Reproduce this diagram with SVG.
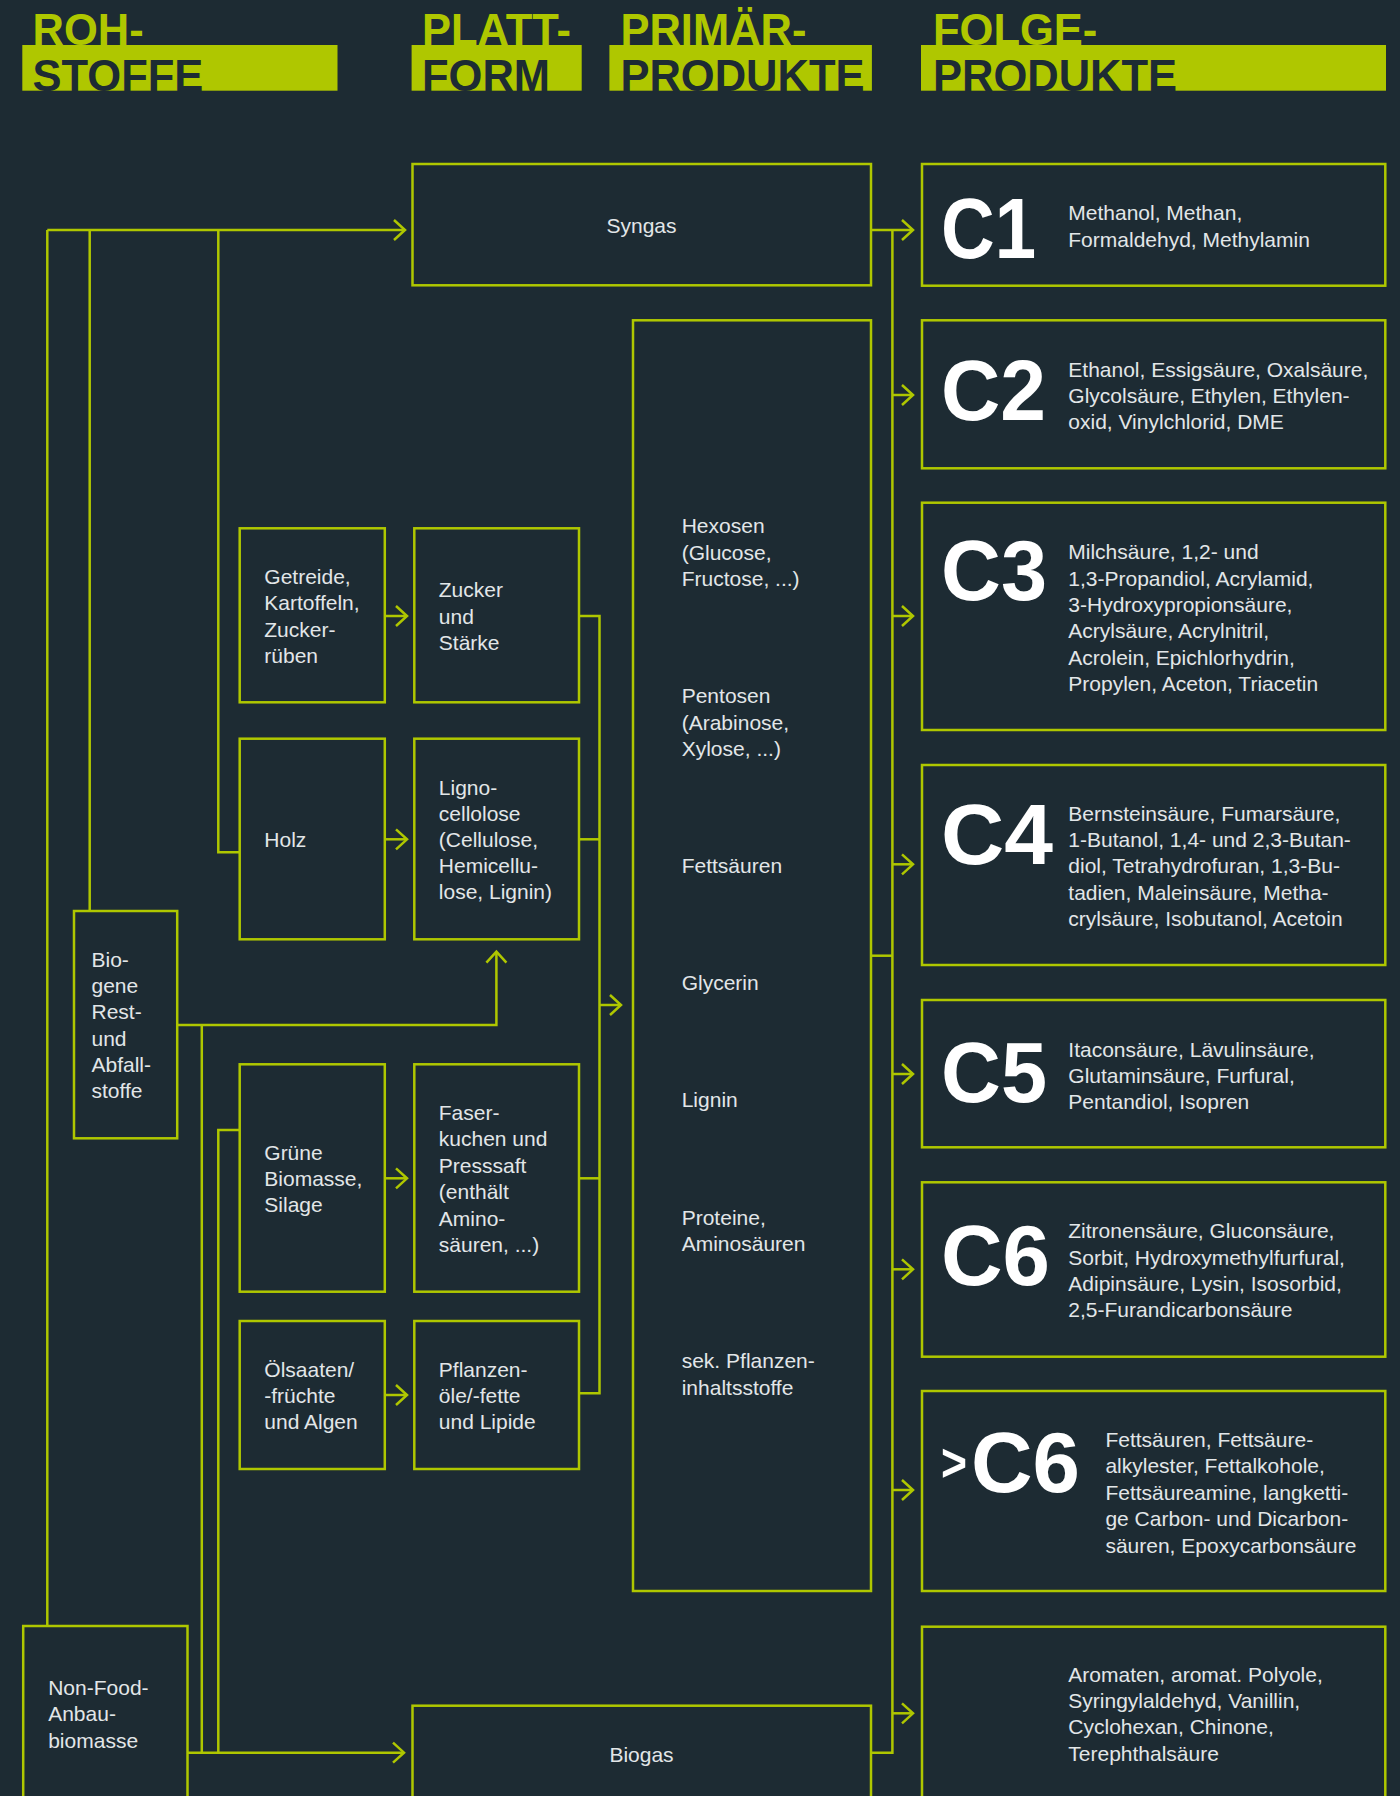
<svg xmlns="http://www.w3.org/2000/svg" width="1400" height="1796" viewBox="0 0 1400 1796">
<defs>
<marker id="arr" viewBox="-13 -12 16 24" markerWidth="16" markerHeight="24" refX="0" refY="0" markerUnits="userSpaceOnUse" orient="auto" overflow="visible">
<path d="M-11,-10 L0,0 L-11,10" fill="none" stroke="#afc700" stroke-width="2.5"/>
</marker>
</defs>
<style>
.bg{fill:#1d2b33}
.box{fill:none;stroke:#afc700;stroke-width:2.5}
.ln{fill:none;stroke:#afc700;stroke-width:2.5}
.t{font-family:"Liberation Sans",Arial,sans-serif;font-size:21px;fill:#e2e6e8}
.big{font-family:"Liberation Sans",Arial,sans-serif;font-weight:bold;font-size:86px;fill:#ffffff}
.h1{font-family:"Liberation Sans",Arial,sans-serif;font-weight:bold;font-size:43.5px;fill:#afc700}
.h2{font-family:"Liberation Sans",Arial,sans-serif;font-weight:bold;font-size:43.5px;fill:#1d2b33}
.bar{fill:#afc700}
</style>
<rect class="bg" x="0" y="0" width="1400" height="1796"/>

<g id="headers">
<rect class="bar" x="22.3" y="45" width="315.2" height="45.7"/>
<rect class="bar" x="411.6" y="45" width="170.1" height="45.7"/>
<rect class="bar" x="609.4" y="45" width="262.5" height="45.7"/>
<rect class="bar" x="921" y="45" width="465" height="45.7"/>
<text class="h1" x="32.5" y="45">ROH-</text>
<text class="h2" x="32.5" y="90.7">STOFFE</text>
<text class="h1" x="422" y="45">PLATT-</text>
<text class="h2" x="422" y="90.7">FORM</text>
<text class="h1" x="620.4" y="45">PRIMÄR-</text>
<text class="h2" x="620.4" y="90.7">PRODUKTE</text>
<text class="h1" x="933" y="45">FOLGE-</text>
<text class="h2" x="933" y="90.7">PRODUKTE</text>
</g>

<g id="connectors">
<path class="ln" d="M47.3,230 H405" marker-end="url(#arr)"/>
<path class="ln" d="M47.3,230 V1626"/>
<path class="ln" d="M89.7,230 V911"/>
<path class="ln" d="M218.3,230 V852.3 H239.7"/>
<path class="ln" d="M385,616 H407" marker-end="url(#arr)"/>
<path class="ln" d="M385,839.3 H407" marker-end="url(#arr)"/>
<path class="ln" d="M385,1178.3 H407" marker-end="url(#arr)"/>
<path class="ln" d="M385,1395 H407" marker-end="url(#arr)"/>
<path class="ln" d="M177.2,1025 H496.4 V951.7" marker-end="url(#arr)"/>
<path class="ln" d="M201.8,1025 V1752.7"/>
<path class="ln" d="M239.7,1130 H218.3 V1752.7"/>
<path class="ln" d="M187.5,1752.7 H404" marker-end="url(#arr)"/>
<path class="ln" d="M579,616 H599.5 V1393.3 H579"/>
<path class="ln" d="M579,839.3 H599.5"/>
<path class="ln" d="M579,1178.3 H599.5"/>
<path class="ln" d="M599.5,1005 H621" marker-end="url(#arr)"/>
<path class="ln" d="M871,230 H913" marker-end="url(#arr)"/>
<path class="ln" d="M892.4,230 V1752.7 H871"/>
<path class="ln" d="M871,955.7 H892.4"/>
<path class="ln" d="M892.4,395 H913" marker-end="url(#arr)"/>
<path class="ln" d="M892.4,616 H913" marker-end="url(#arr)"/>
<path class="ln" d="M892.4,864.3 H913" marker-end="url(#arr)"/>
<path class="ln" d="M892.4,1074 H913" marker-end="url(#arr)"/>
<path class="ln" d="M892.4,1269.3 H913" marker-end="url(#arr)"/>
<path class="ln" d="M892.4,1490 H913" marker-end="url(#arr)"/>
<path class="ln" d="M892.4,1713.3 H913" marker-end="url(#arr)"/>
</g>

<g id="syngas">
<rect class="box" x="412.5" y="164" width="458.5" height="121.3"/>
<text class="t" x="641.5" y="233.3" text-anchor="middle">Syngas</text>
</g>
<g id="biogas">
<rect class="box" x="412.5" y="1705.7" width="458.5" height="140"/>
<text class="t" x="641.5" y="1761.7" text-anchor="middle">Biogas</text>
</g>

<g id="getreide">
<rect class="box" x="239.7" y="528.3" width="145.1" height="174"/>
<text class="t" x="264.3" y="584"><tspan x="264.3">Getreide,</tspan><tspan x="264.3" dy="26.3">Kartoffeln,</tspan><tspan x="264.3" dy="26.3">Zucker-</tspan><tspan x="264.3" dy="26.3">rüben</tspan></text>
</g>
<g id="zucker">
<rect class="box" x="414.3" y="528.3" width="164.7" height="174"/>
<text class="t" x="438.8" y="597.3"><tspan x="438.8">Zucker</tspan><tspan x="438.8" dy="26.3">und</tspan><tspan x="438.8" dy="26.3">Stärke</tspan></text>
</g>
<g id="holz">
<rect class="box" x="239.7" y="738.7" width="145.1" height="200.6"/>
<text class="t" x="264.3" y="846.7">Holz</text>
</g>
<g id="lignocellulose">
<rect class="box" x="414.3" y="738.7" width="164.7" height="200.6"/>
<text class="t" x="438.8" y="795"><tspan x="438.8">Ligno-</tspan><tspan x="438.8" dy="26.1">cellolose</tspan><tspan x="438.8" dy="26.1">(Cellulose,</tspan><tspan x="438.8" dy="26.1">Hemicellu-</tspan><tspan x="438.8" dy="26.1">lose, Lignin)</tspan></text>
</g>
<g id="biogene">
<rect class="box" x="74" y="911" width="103.2" height="227.3"/>
<text class="t" x="91.5" y="966.7"><tspan x="91.5">Bio-</tspan><tspan x="91.5" dy="26.3">gene</tspan><tspan x="91.5" dy="26.3">Rest-</tspan><tspan x="91.5" dy="26.3">und</tspan><tspan x="91.5" dy="26.3">Abfall-</tspan><tspan x="91.5" dy="26.3">stoffe</tspan></text>
</g>
<g id="gruene">
<rect class="box" x="239.7" y="1064.3" width="145.1" height="227.4"/>
<text class="t" x="264.3" y="1160"><tspan x="264.3">Grüne</tspan><tspan x="264.3" dy="26.2">Biomasse,</tspan><tspan x="264.3" dy="26.2">Silage</tspan></text>
</g>
<g id="faser">
<rect class="box" x="414.3" y="1064.3" width="164.7" height="227.4"/>
<text class="t" x="438.8" y="1120"><tspan x="438.8">Faser-</tspan><tspan x="438.8" dy="26.4">kuchen und</tspan><tspan x="438.8" dy="26.4">Presssaft</tspan><tspan x="438.8" dy="26.4">(enthält</tspan><tspan x="438.8" dy="26.4">Amino-</tspan><tspan x="438.8" dy="26.4">säuren, ...)</tspan></text>
</g>
<g id="oelsaaten">
<rect class="box" x="239.7" y="1321" width="145.1" height="148"/>
<text class="t" x="264.3" y="1376.7"><tspan x="264.3">Ölsaaten/</tspan><tspan x="264.3" dy="26.3">-früchte</tspan><tspan x="264.3" dy="26.3">und Algen</tspan></text>
</g>
<g id="pflanzenoele">
<rect class="box" x="414.3" y="1321" width="164.7" height="148"/>
<text class="t" x="438.8" y="1376.7"><tspan x="438.8">Pflanzen-</tspan><tspan x="438.8" dy="26.3">öle/-fette</tspan><tspan x="438.8" dy="26.3">und Lipide</tspan></text>
</g>
<g id="nonfood">
<rect class="box" x="23.2" y="1626" width="164.3" height="220"/>
<text class="t" x="48.2" y="1695"><tspan x="48.2">Non-Food-</tspan><tspan x="48.2" dy="26.3">Anbau-</tspan><tspan x="48.2" dy="26.3">biomasse</tspan></text>
</g>

<g id="primaer">
<rect class="box" x="633" y="320.3" width="238" height="1270.7"/>
<text class="t" x="681.7" y="533.3"><tspan x="681.7">Hexosen</tspan><tspan x="681.7" dy="26.2">(Glucose,</tspan><tspan x="681.7" dy="26.2">Fructose, ...)</tspan></text>
<text class="t" x="681.7" y="703.3"><tspan x="681.7">Pentosen</tspan><tspan x="681.7" dy="26.2">(Arabinose,</tspan><tspan x="681.7" dy="26.2">Xylose, ...)</tspan></text>
<text class="t" x="681.7" y="873.3">Fettsäuren</text>
<text class="t" x="681.7" y="990">Glycerin</text>
<text class="t" x="681.7" y="1107.3">Lignin</text>
<text class="t" x="681.7" y="1225"><tspan x="681.7">Proteine,</tspan><tspan x="681.7" dy="26.2">Aminosäuren</tspan></text>
<text class="t" x="681.7" y="1368.3"><tspan x="681.7">sek. Pflanzen-</tspan><tspan x="681.7" dy="26.2">inhaltsstoffe</tspan></text>
</g>

<g id="c1">
<rect class="box" x="922" y="164" width="463.3" height="121.7"/>
<text class="big" x="941" y="258.3" textLength="95" lengthAdjust="spacingAndGlyphs">C1</text>
<text class="t" x="1068.3" y="220"><tspan x="1068.3">Methanol, Methan,</tspan><tspan x="1068.3" dy="26.6">Formaldehyd, Methylamin</tspan></text>
</g>
<g id="c2">
<rect class="box" x="922" y="320.3" width="463.3" height="148"/>
<text class="big" x="941" y="420" textLength="105" lengthAdjust="spacingAndGlyphs">C2</text>
<text class="t" x="1068.3" y="376.7"><tspan x="1068.3">Ethanol, Essigsäure, Oxalsäure,</tspan><tspan x="1068.3" dy="26.2">Glycolsäure, Ethylen, Ethylen-</tspan><tspan x="1068.3" dy="26.2">oxid, Vinylchlorid, DME</tspan></text>
</g>
<g id="c3">
<rect class="box" x="922" y="502.7" width="463.3" height="227.3"/>
<text class="big" x="941" y="600" textLength="106" lengthAdjust="spacingAndGlyphs">C3</text>
<text class="t" x="1068.3" y="559.3"><tspan x="1068.3">Milchsäure, 1,2- und</tspan><tspan x="1068.3" dy="26.3">1,3-Propandiol, Acrylamid,</tspan><tspan x="1068.3" dy="26.3">3-Hydroxypropionsäure,</tspan><tspan x="1068.3" dy="26.3">Acrylsäure, Acrylnitril,</tspan><tspan x="1068.3" dy="26.3">Acrolein, Epichlorhydrin,</tspan><tspan x="1068.3" dy="26.3">Propylen, Aceton, Triacetin</tspan></text>
</g>
<g id="c4">
<rect class="box" x="922" y="765" width="463.3" height="200"/>
<text class="big" x="941" y="864" textLength="112" lengthAdjust="spacingAndGlyphs">C4</text>
<text class="t" x="1068.3" y="820.7"><tspan x="1068.3">Bernsteinsäure, Fumarsäure,</tspan><tspan x="1068.3" dy="26.3">1-Butanol, 1,4- und 2,3-Butan-</tspan><tspan x="1068.3" dy="26.3">diol, Tetrahydrofuran, 1,3-Bu-</tspan><tspan x="1068.3" dy="26.3">tadien, Maleinsäure, Metha-</tspan><tspan x="1068.3" dy="26.3">crylsäure, Isobutanol, Acetoin</tspan></text>
</g>
<g id="c5">
<rect class="box" x="922" y="1000" width="463.3" height="147.3"/>
<text class="big" x="941" y="1101.7" textLength="106" lengthAdjust="spacingAndGlyphs">C5</text>
<text class="t" x="1068.3" y="1056.7"><tspan x="1068.3">Itaconsäure, Lävulinsäure,</tspan><tspan x="1068.3" dy="26">Glutaminsäure, Furfural,</tspan><tspan x="1068.3" dy="26">Pentandiol, Isopren</tspan></text>
</g>
<g id="c6">
<rect class="box" x="922" y="1182.3" width="463.3" height="174.4"/>
<text class="big" x="941" y="1285" textLength="109" lengthAdjust="spacingAndGlyphs">C6</text>
<text class="t" x="1068.3" y="1238.3"><tspan x="1068.3">Zitronensäure, Gluconsäure,</tspan><tspan x="1068.3" dy="26.2">Sorbit, Hydroxymethylfurfural,</tspan><tspan x="1068.3" dy="26.2">Adipinsäure, Lysin, Isosorbid,</tspan><tspan x="1068.3" dy="26.2">2,5-Furandicarbonsäure</tspan></text>
</g>
<g id="c6plus">
<rect class="box" x="922" y="1391" width="463.3" height="200"/>
<text class="big" x="941" y="1481" style="font-size:54px" textLength="26" lengthAdjust="spacingAndGlyphs">&gt;</text>
<text class="big" x="971" y="1491.7" textLength="109" lengthAdjust="spacingAndGlyphs">C6</text>
<text class="t" x="1105.4" y="1446.7"><tspan x="1105.4">Fettsäuren, Fettsäure-</tspan><tspan x="1105.4" dy="26.5">alkylester, Fettalkohole,</tspan><tspan x="1105.4" dy="26.5">Fettsäureamine, langketti-</tspan><tspan x="1105.4" dy="26.5">ge Carbon- und Dicarbon-</tspan><tspan x="1105.4" dy="26.5">säuren, Epoxycarbonsäure</tspan></text>
</g>
<g id="aromaten">
<rect class="box" x="922" y="1626.7" width="463.3" height="220"/>
<text class="t" x="1068.3" y="1681.7"><tspan x="1068.3">Aromaten, aromat. Polyole,</tspan><tspan x="1068.3" dy="26.3">Syringylaldehyd, Vanillin,</tspan><tspan x="1068.3" dy="26.3">Cyclohexan, Chinone,</tspan><tspan x="1068.3" dy="26.3">Terephthalsäure</tspan></text>
</g>
</svg>
